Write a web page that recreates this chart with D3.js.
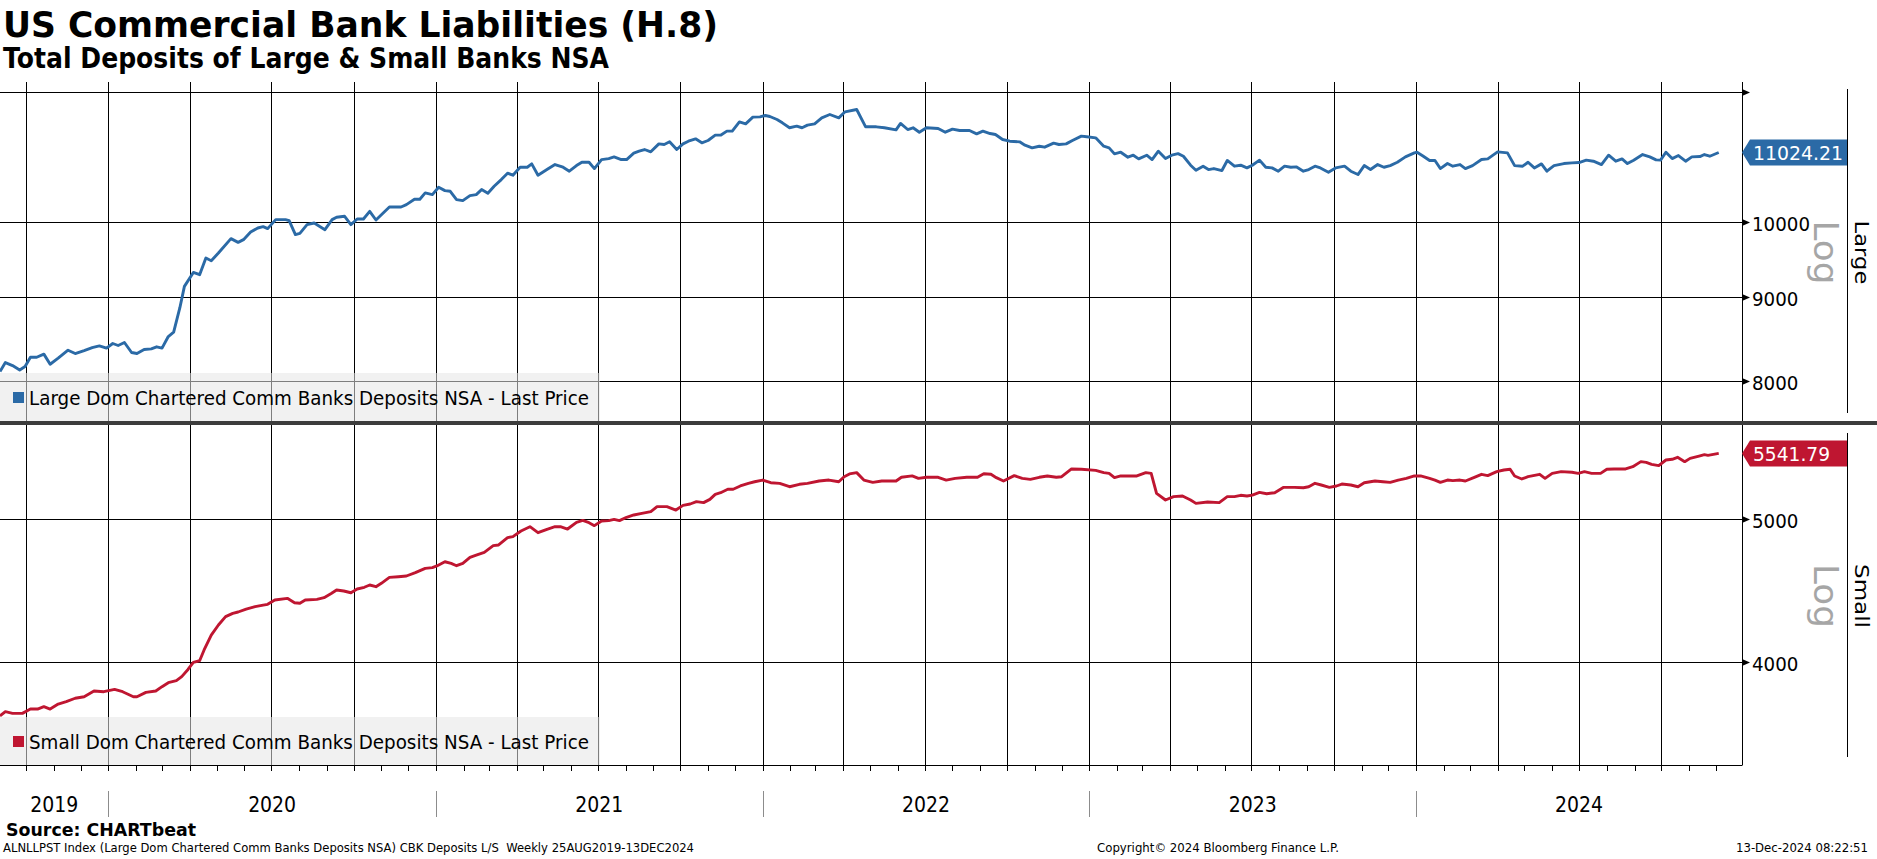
<!DOCTYPE html>
<html>
<head>
<meta charset="utf-8">
<script src="https://cdn.jsdelivr.net/npm/d3@7"></script>
<style>
  body { margin: 0; background: #fff; }
  svg { display: block; }
  text { font-family: "DejaVu Sans", Verdana, sans-serif; }
</style>
</head>
<body>
<svg id="chart" width="1877" height="859"></svg>
<script>
// ---- values (weekly H.8, one row per month) ----
const largeDates = [
  "2019-09-02","2019-09-08","2019-09-16","2019-09-24","2019-09-30",
  "2019-10-06","2019-10-13","2019-10-21","2019-10-28",
  "2019-11-06","2019-11-17","2019-11-25",
  "2019-12-05","2019-12-14","2019-12-22","2019-12-30",
  "2020-01-06","2020-01-12","2020-01-19","2020-01-27",
  "2020-02-02","2020-02-10","2020-02-18","2020-02-24",
  "2020-03-01","2020-03-08","2020-03-14","2020-03-21","2020-03-26",
  "2020-04-05","2020-04-12","2020-04-19","2020-04-25",
  "2020-05-03","2020-05-17","2020-05-25","2020-05-31",
  "2020-06-08","2020-06-16","2020-06-22","2020-06-27",
  "2020-07-06","2020-07-17","2020-07-21","2020-07-28",
  "2020-08-02","2020-08-10","2020-08-18","2020-08-30",
  "2020-09-07","2020-09-12","2020-09-21","2020-09-28",
  "2020-10-05","2020-10-12","2020-10-19","2020-10-26",
  "2020-11-10","2020-11-23","2020-11-29",
  "2020-12-08","2020-12-14","2020-12-20","2020-12-28",
  "2021-01-04","2021-01-11","2021-01-17","2021-01-24","2021-01-31",
  "2021-02-08","2021-02-15","2021-02-21","2021-02-28",
  "2021-03-07","2021-03-15","2021-03-22","2021-03-28",
  "2021-04-05","2021-04-13","2021-04-18","2021-04-25",
  "2021-05-05","2021-05-14","2021-05-23","2021-05-30",
  "2021-06-07","2021-06-13","2021-06-21","2021-06-27",
  "2021-07-05","2021-07-13","2021-07-19","2021-07-27",
  "2021-08-02","2021-08-10","2021-08-16","2021-08-22","2021-08-29",
  "2021-09-07","2021-09-13","2021-09-19","2021-09-27",
  "2021-10-04","2021-10-10","2021-10-18","2021-10-25",
  "2021-11-01","2021-11-09","2021-11-15","2021-11-22","2021-11-28",
  "2021-12-06","2021-12-13","2021-12-21","2021-12-29",
  "2022-01-04","2022-01-09","2022-01-17","2022-01-23","2022-01-31",
  "2022-02-08","2022-02-14","2022-02-20","2022-02-28",
  "2022-03-08","2022-03-17","2022-03-27",
  "2022-04-03","2022-04-16","2022-04-26",
  "2022-05-08","2022-05-17","2022-05-30",
  "2022-06-04","2022-06-12","2022-06-18","2022-06-25",
  "2022-07-03","2022-07-16","2022-07-24",
  "2022-08-01","2022-08-09","2022-08-20","2022-08-28",
  "2022-09-04","2022-09-12","2022-09-18","2022-09-26",
  "2022-10-04","2022-10-15","2022-10-21","2022-10-29",
  "2022-11-06","2022-11-12","2022-11-22","2022-11-28",
  "2022-12-06","2022-12-13","2022-12-23","2022-12-29",
  "2023-01-08","2023-01-17","2023-01-23","2023-01-29",
  "2023-02-05","2023-02-13","2023-02-19","2023-02-25",
  "2023-03-06","2023-03-12","2023-03-19","2023-03-27",
  "2023-04-03","2023-04-10","2023-04-16","2023-04-24","2023-04-30",
  "2023-05-08","2023-05-14","2023-05-20","2023-05-29",
  "2023-06-04","2023-06-12","2023-06-19","2023-06-26",
  "2023-07-02","2023-07-10","2023-07-17","2023-07-24","2023-07-31",
  "2023-08-07","2023-08-14","2023-08-20","2023-08-28",
  "2023-09-03","2023-09-10","2023-09-16","2023-09-25",
  "2023-10-03","2023-10-13","2023-10-20","2023-10-28",
  "2023-11-04","2023-11-11","2023-11-19","2023-11-26",
  "2023-12-03","2023-12-11","2023-12-20","2023-12-30",
  "2024-01-02","2024-01-09","2024-01-16","2024-01-22","2024-01-28",
  "2024-02-05","2024-02-11","2024-02-19","2024-02-25",
  "2024-03-04","2024-03-14","2024-03-21",
  "2024-04-01","2024-04-12","2024-04-20","2024-04-29",
  "2024-05-05","2024-05-12","2024-05-20","2024-05-26",
  "2024-06-03","2024-06-14","2024-06-23",
  "2024-07-01","2024-07-09","2024-07-17","2024-07-26",
  "2024-08-03","2024-08-11","2024-08-18","2024-08-24","2024-08-31",
  "2024-09-10","2024-09-18","2024-09-25","2024-09-30",
  "2024-10-06","2024-10-13","2024-10-20","2024-10-28",
  "2024-11-04","2024-11-13","2024-11-18","2024-11-24",
  "2024-12-04"
];
const largeValues = [
  8107, 8210, 8176, 8126, 8165,
  8272, 8272, 8308, 8191,
  8261, 8354, 8315,
  8350, 8385, 8405, 8378,
  8433, 8409, 8445, 8327,
  8315, 8362, 8370, 8394,
  8378, 8516, 8568, 8870, 9136,
  9317, 9287, 9507, 9471,
  9574, 9769, 9718, 9755,
  9860, 9916, 9935, 9907,
  10033, 10033, 10019, 9824,
  9842, 9963, 9986, 9893,
  10033, 10066, 10080, 9963,
  10042, 10042, 10151, 10028,
  10213, 10213, 10247,
  10324, 10324, 10416, 10391,
  10499, 10450, 10440, 10319, 10304,
  10377, 10391, 10465, 10411,
  10514, 10613, 10708, 10678,
  10798, 10798, 10849, 10678,
  10763, 10839, 10798, 10738,
  10823, 10874, 10874, 10778,
  10915, 10930, 10956, 10915,
  10915, 11013, 11044, 11070, 11034,
  11158, 11148, 11190, 11070,
  11158, 11200, 11237, 11174,
  11211, 11295, 11295, 11359, 11359,
  11508, 11476, 11584, 11589,
  11611, 11595, 11546, 11492, 11413,
  11439, 11413, 11455, 11476,
  11573, 11627, 11573,
  11671, 11709, 11428,
  11428, 11413, 11380,
  11482, 11385, 11413, 11342,
  11413, 11402, 11342,
  11391, 11369, 11369, 11316,
  11359, 11321, 11305, 11226,
  11200, 11190, 11138, 11096,
  11121, 11106, 11169, 11148,
  11158, 11211, 11279, 11269,
  11253, 11121, 11096, 11002,
  11028, 10951, 10982, 10926,
  10982, 10915, 11044, 10930,
  10982, 11007, 10966, 10829, 10753,
  10814, 10763, 10778, 10748,
  10901, 10814, 10829, 10788,
  10829, 10906, 10798, 10788, 10738,
  10814, 10798, 10804, 10738,
  10763, 10814, 10788, 10723,
  10788, 10814, 10738, 10688,
  10823, 10763, 10839, 10798,
  10823, 10874, 10956, 11018,
  11028, 10966, 10901, 10901, 10778,
  10854, 10814, 10839, 10778,
  10823, 10915, 10926,
  11034, 11018, 10823, 10814,
  10874, 10788, 10849, 10738,
  10823, 10854, 10864,
  10869, 10906, 10890, 10839,
  10982, 10890, 10926, 10854, 10906,
  10992, 10956, 10910, 10906,
  11028, 10930, 10977, 10890,
  10956, 10961, 10992, 10966,
  11024.21
];
const smallDates = [
  "2019-09-02","2019-09-08","2019-09-16","2019-09-27",
  "2019-10-06","2019-10-14","2019-10-21","2019-10-28",
  "2019-11-06","2019-11-15","2019-11-25",
  "2019-12-05","2019-12-16","2019-12-27",
  "2020-01-08","2020-01-17","2020-01-29",
  "2020-02-02","2020-02-12","2020-02-23",
  "2020-03-01","2020-03-08","2020-03-17","2020-03-23","2020-03-30",
  "2020-04-05","2020-04-12","2020-04-17","2020-04-25",
  "2020-05-03","2020-05-11","2020-05-19","2020-05-25",
  "2020-06-03","2020-06-13","2020-06-22","2020-06-27",
  "2020-07-05","2020-07-19","2020-07-27",
  "2020-08-02","2020-08-08","2020-08-21","2020-08-29",
  "2020-09-06","2020-09-12","2020-09-20","2020-09-28",
  "2020-10-05","2020-10-13","2020-10-19","2020-10-26",
  "2020-11-01","2020-11-10","2020-11-20","2020-11-29",
  "2020-12-09","2020-12-20","2020-12-28",
  "2021-01-02","2021-01-11","2021-01-18","2021-01-24","2021-01-31",
  "2021-02-08","2021-02-15","2021-02-24",
  "2021-03-06","2021-03-12","2021-03-22","2021-03-28",
  "2021-04-06","2021-04-16","2021-04-25",
  "2021-05-05","2021-05-14","2021-05-20","2021-05-28",
  "2021-06-07","2021-06-14","2021-06-21","2021-06-27",
  "2021-07-05","2021-07-13","2021-07-19","2021-07-25",
  "2021-08-02","2021-08-10","2021-08-19","2021-08-29",
  "2021-09-05","2021-09-16","2021-09-26",
  "2021-10-04","2021-10-12","2021-10-19","2021-10-27",
  "2021-11-03","2021-11-09","2021-11-15","2021-11-23","2021-11-29",
  "2021-12-07","2021-12-16","2021-12-23",
  "2022-01-01","2022-01-10","2022-01-20","2022-01-31",
  "2022-02-11","2022-02-20",
  "2022-03-05","2022-03-16","2022-03-27",
  "2022-04-02","2022-04-08","2022-04-16","2022-04-24",
  "2022-05-04","2022-05-14","2022-05-30",
  "2022-06-05","2022-06-17","2022-06-24",
  "2022-07-03","2022-07-16","2022-07-25",
  "2022-08-04","2022-08-17","2022-08-29",
  "2022-09-05","2022-09-13","2022-09-19","2022-09-27",
  "2022-10-09","2022-10-18","2022-10-27",
  "2022-11-06","2022-11-15","2022-11-25",
  "2022-12-01","2022-12-12","2022-12-23",
  "2023-01-08","2023-01-17","2023-01-23","2023-01-29",
  "2023-02-05","2023-02-23",
  "2023-03-05","2023-03-11","2023-03-17","2023-03-27",
  "2023-04-05","2023-04-15","2023-04-24","2023-04-30",
  "2023-05-13","2023-05-26",
  "2023-06-04","2023-06-12","2023-06-19","2023-06-26",
  "2023-07-02","2023-07-10","2023-07-18","2023-07-27",
  "2023-08-06","2023-08-18","2023-08-28",
  "2023-09-03","2023-09-10","2023-09-17","2023-09-26",
  "2023-10-04","2023-10-10","2023-10-20","2023-10-28",
  "2023-11-04","2023-11-16","2023-11-25",
  "2023-12-03","2023-12-12","2023-12-21","2023-12-30",
  "2024-01-06","2024-01-16","2024-01-22","2024-01-28",
  "2024-02-05","2024-02-11","2024-02-19","2024-02-25",
  "2024-03-06","2024-03-14","2024-03-21","2024-03-31",
  "2024-04-08","2024-04-15","2024-04-20","2024-04-28",
  "2024-05-05","2024-05-18","2024-05-24",
  "2024-06-01","2024-06-11","2024-06-23","2024-06-30",
  "2024-07-07","2024-07-15","2024-07-25",
  "2024-08-01","2024-08-09","2024-08-22","2024-08-30",
  "2024-09-08","2024-09-14","2024-09-20","2024-09-28",
  "2024-10-06","2024-10-13","2024-10-19","2024-10-27",
  "2024-11-02","2024-11-12","2024-11-18","2024-11-22",
  "2024-12-04"
];
const smallValues = [
  3679, 3704, 3694, 3694,
  3719, 3719, 3733, 3719,
  3748, 3762, 3782,
  3791, 3825, 3821,
  3835, 3821, 3791,
  3791, 3817, 3825,
  3851, 3875, 3887, 3912, 3956,
  4000, 4010, 4078, 4174,
  4240, 4296, 4318, 4327,
  4347, 4363, 4374, 4379,
  4409, 4420, 4390,
  4386, 4409, 4413, 4425,
  4454, 4478, 4471, 4459,
  4485, 4497, 4513, 4501,
  4525, 4567, 4572, 4577,
  4601, 4632, 4637,
  4649, 4680, 4668, 4651, 4668,
  4712, 4729, 4749,
  4799, 4804, 4859, 4867,
  4910, 4943, 4897,
  4923, 4943, 4943, 4925,
  4977, 4992, 4974, 4951,
  4987, 4990, 5000, 4990,
  5016, 5034, 5047, 5060,
  5100, 5100, 5073,
  5110, 5121, 5140, 5132,
  5158, 5199, 5212, 5240, 5240,
  5267, 5289, 5302,
  5316, 5294, 5289, 5261,
  5281, 5289,
  5308, 5316, 5302,
  5344, 5367, 5378, 5316,
  5297, 5308, 5308,
  5339, 5351, 5330,
  5339, 5339, 5316,
  5330, 5339, 5339,
  5369, 5364, 5336, 5308,
  5353, 5330, 5322,
  5339, 5350, 5339,
  5344, 5409, 5406,
  5397, 5378, 5372, 5336,
  5350, 5350,
  5378, 5372, 5207, 5153,
  5180, 5185, 5153, 5126,
  5137, 5132,
  5180, 5180, 5191, 5185,
  5193, 5215, 5204, 5212,
  5256, 5256, 5253,
  5261, 5289, 5275, 5256,
  5267, 5283, 5275, 5261,
  5294, 5308, 5302,
  5297, 5316, 5330, 5350,
  5350, 5330, 5316, 5297,
  5316, 5311, 5316, 5308,
  5339, 5364, 5353, 5386,
  5400, 5406, 5350, 5325,
  5344, 5364, 5330,
  5372, 5386, 5381, 5372,
  5386, 5372, 5372,
  5406, 5409, 5409, 5428,
  5471, 5465, 5448, 5437,
  5485, 5491, 5508, 5471,
  5499, 5519, 5531, 5525,
  5541.79
];
const largeTicks = [8000, 9000, 10000, 12000];
const largeTickLabels = ["8000", "9000", "10000", ""];
const smallTicks = [4000, 5000];
const smallTickLabels = ["4000", "5000"];
const yearLabels = ["2019", "2020", "2021", "2022", "2023", "2024"];
const legendLabels = [
  "Large Dom Chartered Comm Banks Deposits NSA - Last Price",
  "Small Dom Chartered Comm Banks Deposits NSA - Last Price"
];

// ================================
const parseDay = d3.timeParse("%Y-%m-%d");
const blue = "#2b6aa6", red = "#bf1631";
const svg = d3.select("#chart");

const plotRight = 1742;
const xScale = d3.scaleTime()
  .domain([new Date(2019, 8, 2), new Date(2024, 11, 30)])
  .range([0, plotRight]);

const panels = [
  { name: "Large", dates: largeDates, values: largeValues, ticks: largeTicks, tickLabels: largeTickLabels,
    color: blue, legend: legendLabels[0], top: 92, bottom: 423,
    y: d3.scaleLog().domain([7543, 12000]).range([423, 92]),
    lastW: 90, legendY: 373, sideTop: 89, sideBottom: 413 },
  { name: "Small", dates: smallDates, values: smallValues, ticks: smallTicks, tickLabels: smallTickLabels,
    color: red, legend: legendLabels[1], top: 423, bottom: 765,
    y: d3.scaleLog().domain([3408, 5811]).range([765, 423]),
    lastW: 77, legendY: 717, sideTop: 433, sideBottom: 757 }
];

// text helper, forces a width when given
function addText(g, str, attrs, len) {
  const t = g.append("text").text(str);
  Object.keys(attrs).forEach(k => t.attr(k, attrs[k]));
  if (len) t.attr("textLength", len).attr("lengthAdjust", "spacingAndGlyphs");
  return t;
}

// ---- titles ----
addText(svg, "US Commercial Bank Liabilities (H.8)",
  { x: 3, y: 37, "font-size": 36, "font-weight": "bold", fill: "#000" }, 715);
addText(svg, "Total Deposits of Large & Small Banks NSA",
  { x: 3, y: 68, "font-size": 28, "font-weight": "bold", fill: "#000" }, 606);

// ---- vertical quarter grid ----
const quarters = d3.timeMonth.every(3).range(new Date(2019, 9, 1), new Date(2024, 11, 2));
svg.append("g").selectAll("line").data(quarters).enter().append("line")
  .attr("x1", d => Math.round(xScale(d)) + 0.5).attr("x2", d => Math.round(xScale(d)) + 0.5)
  .attr("y1", 82).attr("y2", 765)
  .attr("stroke", "#000").attr("stroke-width", 1);

// right axis line
svg.append("line").attr("x1", plotRight + 0.5).attr("x2", plotRight + 0.5)
  .attr("y1", 82).attr("y2", 765).attr("stroke", "#000");

panels.forEach((p, i) => {
  const g = svg.append("g");

  // horizontal grid + arrow ticks
  p.ticks.forEach((t, j) => {
    const yy = Math.round(p.y(t)) + 0.5;
    g.append("line").attr("x1", 0).attr("x2", plotRight).attr("y1", yy).attr("y2", yy)
      .attr("stroke", "#000").attr("stroke-width", 1);
    g.append("path")
      .attr("d", `M${plotRight},${yy - 3.5}L${plotRight + 8},${yy}L${plotRight},${yy + 3.5}Z`)
      .attr("fill", "#000");
    if (p.tickLabels[j]) {
      addText(g, p.tickLabels[j], { x: 1752, y: yy + 1, "font-size": 20, "dominant-baseline": "central", fill: "#000" },
        p.tickLabels[j].length * 11.6);
    }
  });

  // legend box (translucent, grid shows through)
  g.append("rect").attr("x", 0).attr("y", p.legendY).attr("width", 600).attr("height", 48)
    .attr("fill", "#e6e6e6").attr("fill-opacity", 0.55);
  g.append("rect").attr("x", 13).attr("y", p.legendY + 19).attr("width", 11).attr("height", 11)
    .attr("fill", p.color);
  addText(g, p.legend, { x: 29, y: p.legendY + 32, "font-size": 19, fill: "#000" }, 560);

  // series line
  const clipId = "clip" + i;
  svg.append("clipPath").attr("id", clipId).append("rect")
    .attr("x", 0).attr("y", p.top).attr("width", plotRight).attr("height", p.bottom - p.top);
  const series = d3.zip(p.dates, p.values).map(d => ({ date: parseDay(d[0]), value: d[1] }));
  const line = d3.line().x(d => xScale(d.date)).y(d => p.y(d.value));
  g.append("path").datum(series)
    .attr("clip-path", `url(#${clipId})`)
    .attr("d", line)
    .attr("fill", "none").attr("stroke", p.color)
    .attr("stroke-width", 2.9).attr("stroke-linejoin", "round");

  // last value tag
  const last = series[series.length - 1];
  const ly = p.y(last.value);
  g.append("path")
    .attr("d", `M${plotRight},${ly}L${plotRight + 8},${ly - 13}L1847,${ly - 13}L1847,${ly + 13}L${plotRight + 8},${ly + 13}Z`)
    .attr("fill", p.color);
  addText(g, d3.format(".2f")(last.value),
    { x: 1753, y: ly + 1, "font-size": 20, "dominant-baseline": "central", fill: "#fff" }, p.lastW);

  // side line + rotated captions
  g.append("line").attr("x1", 1847.5).attr("x2", 1847.5).attr("y1", p.sideTop).attr("y2", p.sideBottom)
    .attr("stroke", "#000");
  const mid = (p.top + p.bottom) / 2 + (i === 0 ? -5 : 2);
  addText(g, "Log", { transform: `translate(1814,${mid}) rotate(90)`, "text-anchor": "middle",
    "font-size": 33, fill: "#a6a6a6" }, 64);
  addText(g, p.name, { transform: `translate(1855,${mid}) rotate(90)`, "text-anchor": "middle",
    "font-size": 20, fill: "#000" }, 64);
});

// panel separator
svg.append("line").attr("x1", 0).attr("x2", 1877).attr("y1", 423).attr("y2", 423)
  .attr("stroke", "#3c3c3c").attr("stroke-width", 4);

// ---- bottom time axis ----
svg.append("line").attr("x1", 0).attr("x2", plotRight + 0.5).attr("y1", 765.5).attr("y2", 765.5)
  .attr("stroke", "#000");
const months = d3.timeMonth.range(new Date(2019, 8, 1), new Date(2024, 11, 2))
  .filter(d => xScale(d) >= 0);
svg.append("g").selectAll("line").data(months).enter().append("line")
  .attr("x1", d => Math.round(xScale(d)) + 0.5).attr("x2", d => Math.round(xScale(d)) + 0.5)
  .attr("y1", 765).attr("y2", 771).attr("stroke", "#000");

const yearStarts = yearLabels.map(y => new Date(+y, 0, 1));
svg.append("g").selectAll("line").data(yearStarts.slice(1)).enter().append("line")
  .attr("x1", d => Math.round(xScale(d)) + 0.5).attr("x2", d => Math.round(xScale(d)) + 0.5)
  .attr("y1", 791).attr("y2", 817).attr("stroke", "#8c8c8c");
yearLabels.forEach((lbl, i) => {
  const a = Math.max(0, xScale(yearStarts[i]));
  const b = Math.min(plotRight, xScale(new Date(+lbl + 1, 0, 1)));
  addText(svg, lbl, { x: (a + b) / 2, y: 812, "font-size": 21, "text-anchor": "middle", fill: "#000" }, 48);
});

// ---- footer ----
addText(svg, "Source: CHARTbeat", { x: 6, y: 836, "font-size": 18, "font-weight": "bold", fill: "#000" }, 190);
addText(svg, "ALNLLPST Index (Large Dom Chartered Comm Banks Deposits NSA) CBK Deposits L/S  Weekly 25AUG2019-13DEC2024",
  { x: 3, y: 852, "font-size": 12, fill: "#000", "xml:space": "preserve" }, 691);
addText(svg, "Copyright\u00A9 2024 Bloomberg Finance L.P.", { x: 1097, y: 852, "font-size": 12, fill: "#000" }, 242);
addText(svg, "13-Dec-2024 08:22:51", { x: 1736, y: 852, "font-size": 12, fill: "#000" }, 132);
</script>
</body>
</html>
